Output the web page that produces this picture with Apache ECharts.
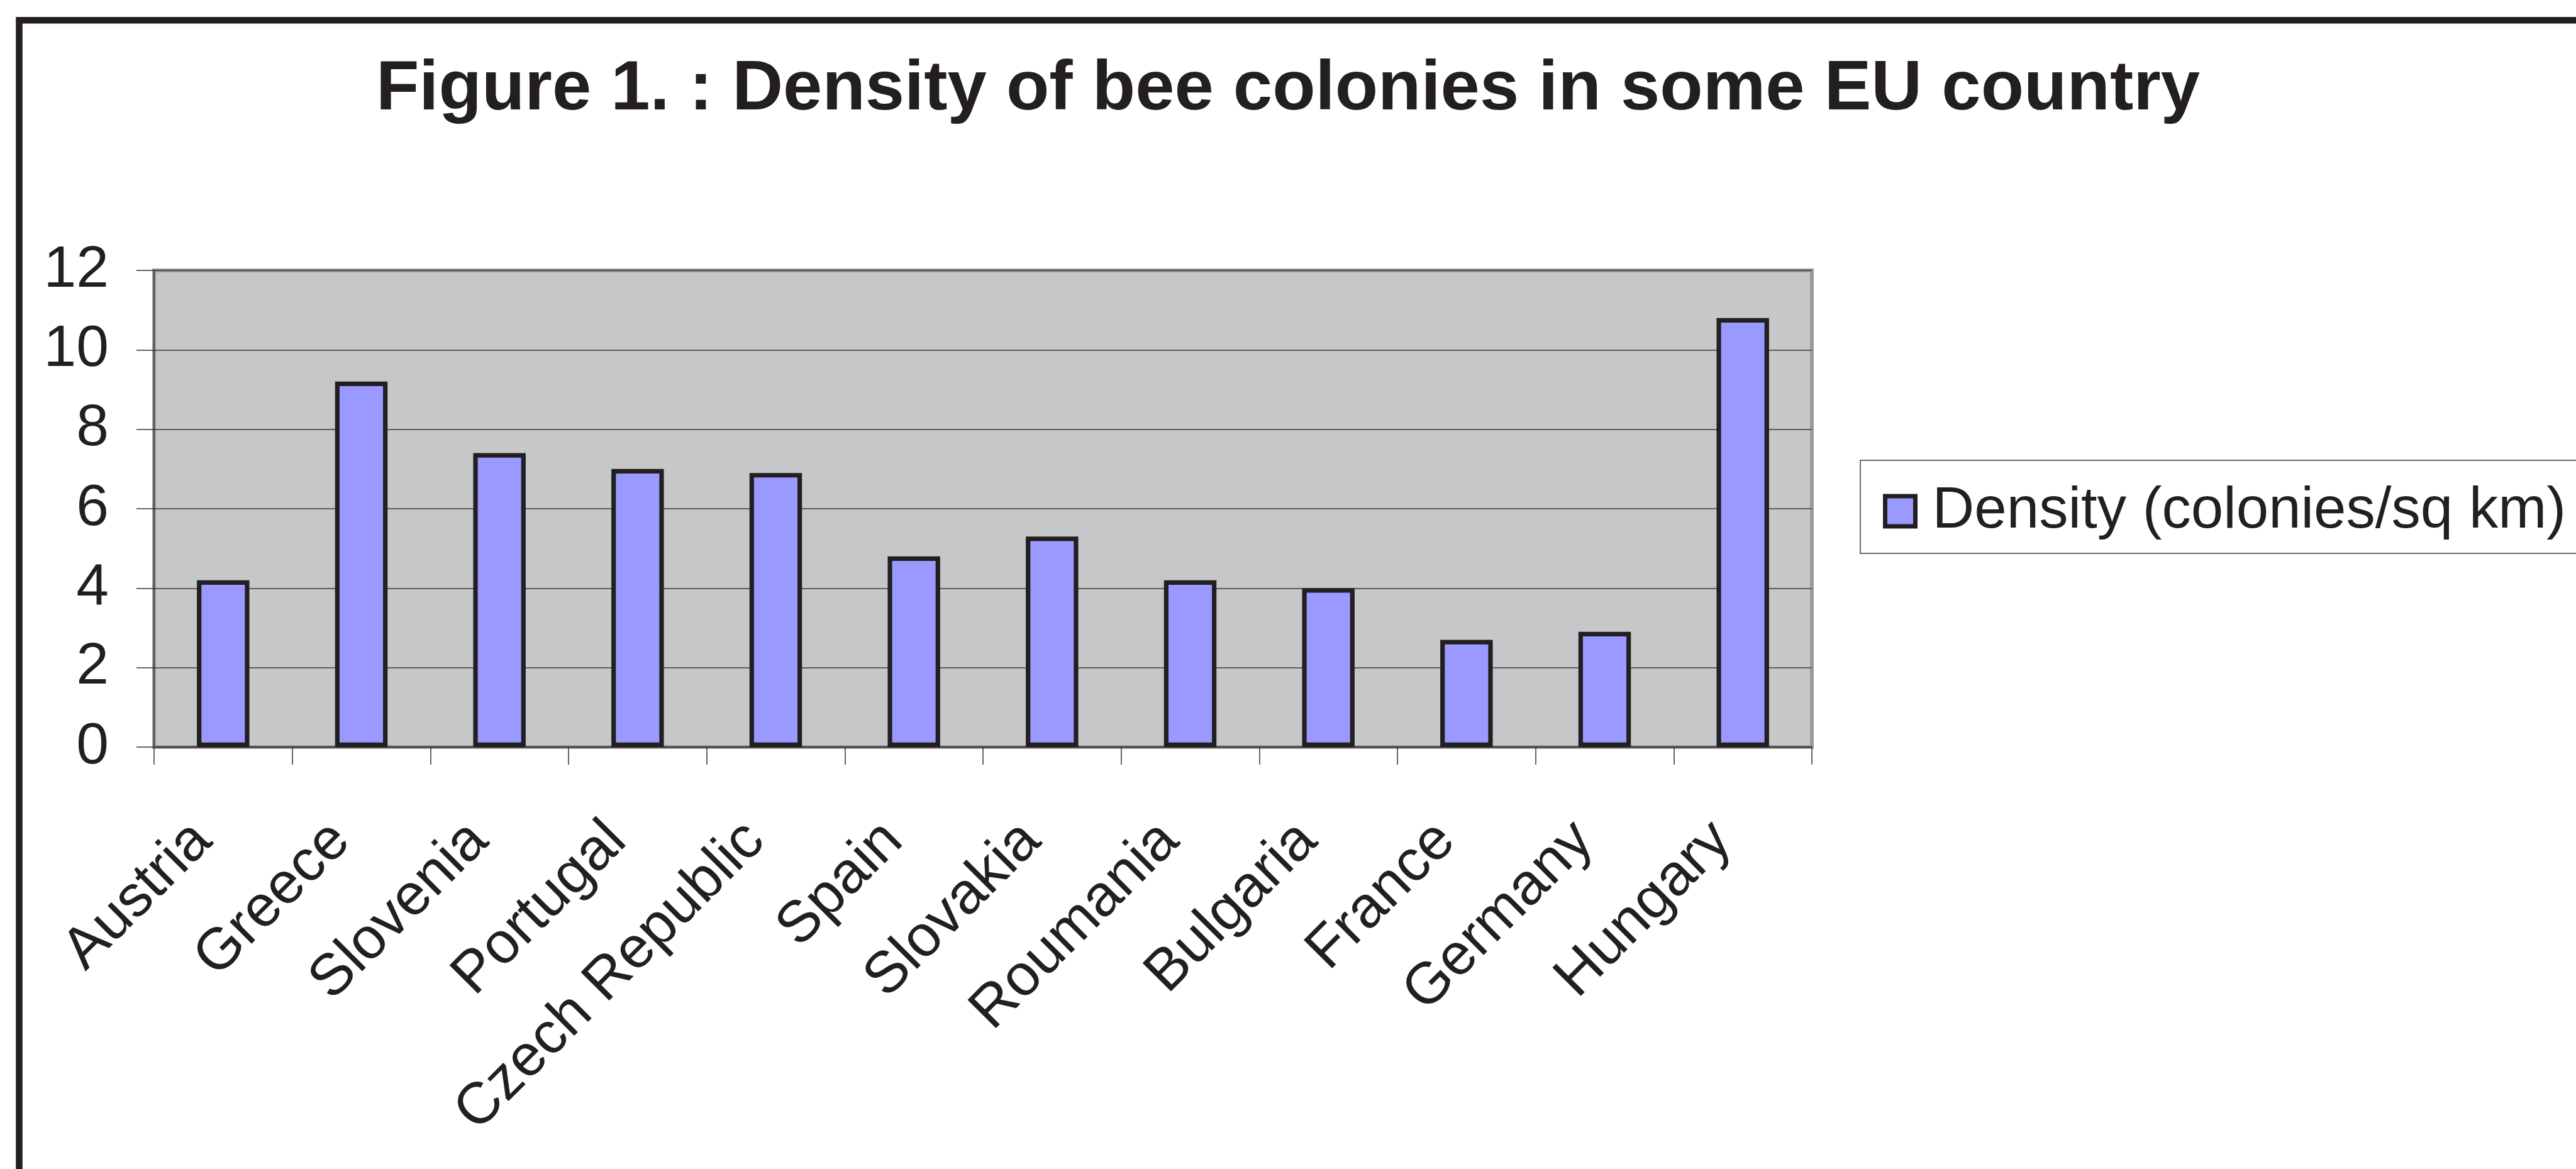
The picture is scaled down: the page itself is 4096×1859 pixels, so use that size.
<!DOCTYPE html>
<html>
<head>
<meta charset="utf-8">
<title>Density of bee colonies</title>
<script src="https://cdn.jsdelivr.net/npm/echarts@6/dist/echarts.min.js"></script>
<style>
  html, body { margin: 0; padding: 0; background: #ffffff; }
  #chart { width: 4096px; height: 1859px; }
</style>
</head>
<body>
<div id="chart"></div>
<script>
// Countries and bee colony density (colonies per sq km)
const countries = ['Austria', 'Greece', 'Slovenia', 'Portugal', 'Czech Republic', 'Spain',
                   'Slovakia', 'Roumania', 'Bulgaria', 'France', 'Germany', 'Hungary'];
const density = [4.2, 9.2, 7.4, 7.0, 6.9, 4.8, 5.3, 4.2, 4.0, 2.7, 2.9, 10.8];
const seriesName = 'Density (colonies/sq km)';
const titleText = 'Figure 1. : Density of bee colonies in some EU country';
const yTicks = { min: 0, max: 12, interval: 2 };

const ink = '#231F20';
const font = "'Liberation Sans', Arial, sans-serif";

const chart = echarts.init(document.getElementById('chart'), null, { renderer: 'canvas' });

chart.setOption({
  backgroundColor: '#ffffff',
  animation: false,
  textStyle: { fontFamily: font },
  title: {
    text: titleText,
    left: 'center',
    top: 82,
    textStyle: { fontFamily: font, fontSize: 112, fontWeight: 'bold', color: ink }
  },
  grid: {
    left: 245, top: 430, width: 2636, height: 758,
    show: true,
    backgroundColor: '#C6C7C9',
    borderColor: '#9A9A9C',
    borderWidth: 6
  },
  legend: {
    data: [seriesName],
    icon: 'rect',
    left: 2958,
    top: 732,
    orient: 'vertical',
    padding: [31, 120, 17, 36],
    backgroundColor: '#ffffff',
    borderColor: '#3a3a3a',
    borderWidth: 1.5,
    itemWidth: 48,
    itemHeight: 48,
    itemStyle: { color: '#9999FF', borderColor: ink, borderWidth: 7 },
    textStyle: { fontFamily: font, fontSize: 92.5, color: ink, lineHeight: 100, padding: [0, 0, 0, 22] }
  },
  xAxis: {
    type: 'category',
    data: countries,
    boundaryGap: true,
    axisLine: { show: true, lineStyle: { color: ink, width: 1.5 } },
    axisTick: { show: true, length: 28, interval: 0, lineStyle: { color: '#333333', width: 1.5 } },
    axisLabel: {
      interval: 0,
      rotate: 45,
      margin: 102,
      padding: [0, 46, 0, 0],
      fontFamily: font,
      fontSize: 93,
      color: ink
    },
    splitLine: { show: false }
  },
  yAxis: {
    type: 'value',
    min: yTicks.min,
    max: yTicks.max,
    interval: yTicks.interval,
    axisLine: { show: true, lineStyle: { color: ink, width: 1.5 } },
    axisTick: { show: true, length: 28, lineStyle: { color: '#333333', width: 1.5 } },
    axisLabel: { margin: 72, fontFamily: font, fontSize: 93, color: ink },
    splitLine: { show: true, lineStyle: { color: '#3a3a3a', width: 1.5 } }
  },
  series: [{
    name: seriesName,
    type: 'bar',
    data: density,
    barWidth: '38%',
    itemStyle: { color: '#9999FF', borderColor: ink, borderWidth: 7.2 }
  }],
  graphic: [{
    // outer frame of the figure (top and left edges)
    type: 'polyline',
    z: 100,
    shape: { points: [[30.5, 1900], [30.5, 32.3], [4200, 32.3]] },
    style: { fill: null, stroke: ink, lineWidth: 10.6 }
  }]
});
</script>
</body>
</html>
